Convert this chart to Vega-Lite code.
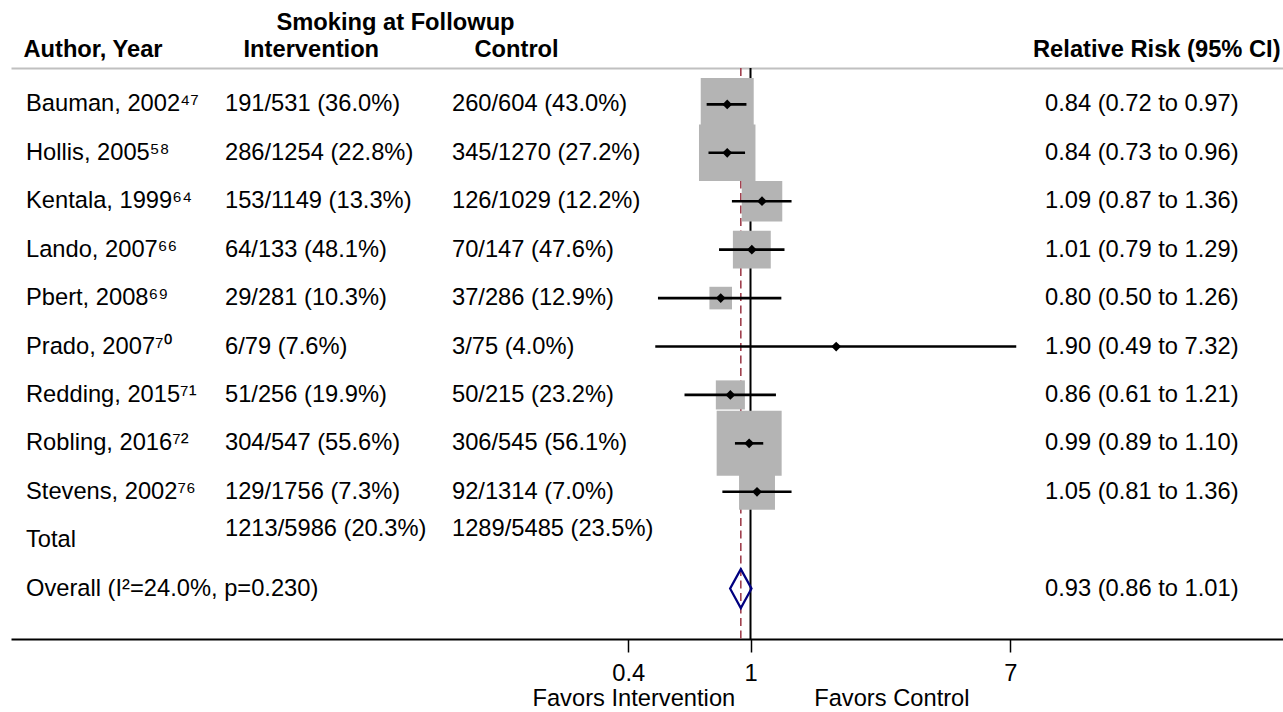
{
  "$schema": "https://vega.github.io/schema/vega-lite/v6.json",
  "width": 1272,
  "height": 571,
  "autosize": {"type": "none"},
  "padding": {"left": 11, "top": 68, "right": 0, "bottom": 73},
  "background": "white",
  "config": {"view": {"stroke": null}, "font": "Liberation Sans", "axis": {"grid": false}},
  "data": {
    "values": [
      {"study": "Bauman, 2002⁴⁷", "int": "191/531 (36.0%)", "ctl": "260/604 (43.0%)", "rr": 0.84, "lo": 0.72, "hi": 0.97, "w": 17.6, "rrtext": "0.84 (0.72 to 0.97)", "type": "study"},
      {"study": "Hollis, 2005⁵⁸", "int": "286/1254 (22.8%)", "ctl": "345/1270 (27.2%)", "rr": 0.84, "lo": 0.73, "hi": 0.96, "w": 20.0, "rrtext": "0.84 (0.73 to 0.96)", "type": "study"},
      {"study": "Kentala, 1999⁶⁴", "int": "153/1149 (13.3%)", "ctl": "126/1029 (12.2%)", "rr": 1.09, "lo": 0.87, "hi": 1.36, "w": 10.3, "rrtext": "1.09 (0.87 to 1.36)", "type": "study"},
      {"study": "Lando, 2007⁶⁶", "int": "64/133 (48.1%)", "ctl": "70/147 (47.6%)", "rr": 1.01, "lo": 0.79, "hi": 1.29, "w": 9.0, "rrtext": "1.01 (0.79 to 1.29)", "type": "study"},
      {"study": "Pbert, 2008⁶⁹", "int": "29/281 (10.3%)", "ctl": "37/286 (12.9%)", "rr": 0.80, "lo": 0.50, "hi": 1.26, "w": 3.2, "rrtext": "0.80 (0.50 to 1.26)", "type": "study"},
      {"study": "Prado, 2007⁷⁰", "int": "6/79 (7.6%)", "ctl": "3/75 (4.0%)", "rr": 1.90, "lo": 0.49, "hi": 7.32, "w": 0.1, "rrtext": "1.90 (0.49 to 7.32)", "type": "study"},
      {"study": "Redding, 2015⁷¹", "int": "51/256 (19.9%)", "ctl": "50/215 (23.2%)", "rr": 0.86, "lo": 0.61, "hi": 1.21, "w": 5.3, "rrtext": "0.86 (0.61 to 1.21)", "type": "study"},
      {"study": "Robling, 2016⁷²", "int": "304/547 (55.6%)", "ctl": "306/545 (56.1%)", "rr": 0.99, "lo": 0.89, "hi": 1.10, "w": 26.5, "rrtext": "0.99 (0.89 to 1.10)", "type": "study"},
      {"study": "Stevens, 2002⁷⁶", "int": "129/1756 (7.3%)", "ctl": "92/1314 (7.0%)", "rr": 1.05, "lo": 0.81, "hi": 1.36, "w": 8.1, "rrtext": "1.05 (0.81 to 1.36)", "type": "study"},
      {"study": "Total", "int": "1213/5986 (20.3%)", "ctl": "1289/5485 (23.5%)", "type": "total"},
      {"study": "Overall (I²=24.0%, p=0.230)", "rr": 0.93, "lo": 0.86, "hi": 1.01, "rrtext": "0.93 (0.86 to 1.01)", "type": "overall"}
    ]
  },
  "layer": [
    {
      "data": {"values": [{}]},
      "mark": {"type": "rule", "color": "black", "strokeWidth": 2},
      "encoding": {
        "x": {
          "datum": 1,
          "type": "quantitative",
          "scale": {"type": "log", "domain": [0.0039291, 53.988], "nice": false, "zero": false},
          "axis": {
            "orient": "bottom",
            "values": [0.4, 1, 7],
            "format": "~g",
            "domain": true,
            "domainColor": "black",
            "domainWidth": 2,
            "ticks": true,
            "tickColor": "black",
            "tickWidth": 1.5,
            "tickSize": 13,
            "labelFont": "Liberation Sans",
            "labelFontSize": 23.7,
            "labelColor": "black",
            "labelPadding": 21,
            "labelBaseline": "middle",
            "labelFlush": false,
            "labelOverlap": false,
            "title": "Favors Intervention\u00a0\u00a0\u00a0\u00a0\u00a0\u00a0\u00a0\u00a0\u00a0\u00a0\u00a0\u00a0Favors Control",
            "titleFont": "Liberation Sans",
            "titleFontSize": 23.7,
            "titleFontWeight": "normal",
            "titleColor": "black",
            "titleX": 739.5,
            "titleY": 59,
            "titleBaseline": "middle",
            "titleAlign": "center",
            "titleLimit": 0,
            "grid": false
          }
        }
      }
    },
    {
      "transform": [{"filter": "datum.type === 'overall'"}],
      "mark": {"type": "rule", "color": "#a0404e", "strokeWidth": 1.6, "strokeDash": [8, 4.5]},
      "encoding": {"x": {"field": "rr", "type": "quantitative", "axis": null}}
    },
    {
      "transform": [{"filter": "datum.type === 'study'"}],
      "mark": {"type": "point", "shape": "square", "filled": true, "color": "#b4b4b4", "opacity": 1, "strokeWidth": 0},
      "encoding": {
        "x": {"field": "rr", "type": "quantitative", "axis": null},
        "y": {
          "field": "study",
          "type": "nominal",
          "scale": {
            "type": "point",
            "domain": ["Bauman, 2002⁴⁷", "Hollis, 2005⁵⁸", "Kentala, 1999⁶⁴", "Lando, 2007⁶⁶", "Pbert, 2008⁶⁹", "Prado, 2007⁷⁰", "Redding, 2015⁷¹", "Robling, 2016⁷²", "Stevens, 2002⁷⁶", "Total", "Overall (I²=24.0%, p=0.230)"],
            "padding": 0.8963,
            "align": 0.4194,
            "round": false
          },
          "axis": null
        },
        "size": {"field": "w", "type": "quantitative", "scale": {"type": "linear", "domain": [0, 26.5], "range": [0, 4225], "zero": true}, "legend": null}
      }
    },
    {
      "transform": [{"filter": "datum.type === 'study'"}],
      "mark": {"type": "rule", "color": "black", "strokeWidth": 2.6},
      "encoding": {
        "x": {"field": "lo", "type": "quantitative", "axis": null},
        "x2": {"field": "hi"},
        "y": {"field": "study", "type": "nominal", "axis": null}
      }
    },
    {
      "transform": [{"filter": "datum.type === 'study'"}],
      "mark": {"type": "point", "shape": "diamond", "filled": true, "color": "black", "opacity": 1, "size": 95},
      "encoding": {
        "x": {"field": "rr", "type": "quantitative", "axis": null},
        "y": {"field": "study", "type": "nominal", "axis": null}
      }
    },
    {
      "transform": [{"filter": "datum.type === 'overall'"}],
      "mark": {"type": "point", "shape": "M-0.55,0L0,-1L0.55,0L0,1Z", "filled": false, "color": "#000080", "strokeWidth": 2.2, "opacity": 1, "size": 1521},
      "encoding": {
        "x": {"field": "rr", "type": "quantitative", "axis": null},
        "y": {"field": "study", "type": "nominal", "axis": null}
      }
    },
    {
      "mark": {"type": "text", "align": "left", "baseline": "middle", "fontSize": 23.7, "font": "Liberation Sans", "color": "black"},
      "encoding": {
        "x": {
          "datum": 0.0043964,
          "type": "quantitative",
          "axis": {
            "orient": "top",
            "values": [0.004296, 0.02234, 0.126, 52.8],
            "labelExpr": "datum.value < 0.01 ? 'Author, Year' : datum.value < 0.05 ? 'Intervention' : datum.value < 1 ? 'Control' : 'Relative Risk (95% CI)'",
            "labelFont": "Liberation Sans",
            "labelFontWeight": "bold",
            "labelFontSize": 23.7,
            "labelColor": "black",
            "labelAlign": {"condition": {"test": "datum.value > 10", "value": "right"}, "value": "left"},
            "labelBaseline": "middle",
            "labelPadding": 19,
            "labelLimit": 0,
            "labelFlush": false,
            "labelOverlap": false,
            "labelBound": false,
            "ticks": false,
            "tickSize": 0,
            "domain": true,
            "domainColor": "#c0c0c0",
            "domainWidth": 2,
            "title": "Smoking at Followup",
            "titleFont": "Liberation Sans",
            "titleFontWeight": "bold",
            "titleFontSize": 23.7,
            "titleColor": "black",
            "titleX": 384,
            "titleY": -46,
            "titleBaseline": "middle",
            "titleAlign": "center",
            "titleLimit": 0,
            "grid": false
          }
        },
        "y": {"field": "study", "type": "nominal", "axis": null},
        "text": {"field": "study"}
      }
    },
    {
      "transform": [{"filter": "datum.type === 'study'"}],
      "mark": {"type": "text", "align": "left", "baseline": "middle", "fontSize": 23.7, "font": "Liberation Sans", "color": "black"},
      "encoding": {
        "x": {"datum": 0.01952, "type": "quantitative", "axis": null},
        "y": {"field": "study", "type": "nominal", "axis": null},
        "text": {"field": "int"}
      }
    },
    {
      "transform": [{"filter": "datum.type === 'total'"}],
      "mark": {"type": "text", "align": "left", "baseline": "middle", "fontSize": 23.7, "font": "Liberation Sans", "color": "black", "dy": -11},
      "encoding": {
        "x": {"datum": 0.01952, "type": "quantitative", "axis": null},
        "y": {"field": "study", "type": "nominal", "axis": null},
        "text": {"field": "int"}
      }
    },
    {
      "transform": [{"filter": "datum.type === 'study'"}],
      "mark": {"type": "text", "align": "left", "baseline": "middle", "fontSize": 23.7, "font": "Liberation Sans", "color": "black"},
      "encoding": {
        "x": {"datum": 0.10689, "type": "quantitative", "axis": null},
        "y": {"field": "study", "type": "nominal", "axis": null},
        "text": {"field": "ctl"}
      }
    },
    {
      "transform": [{"filter": "datum.type === 'total'"}],
      "mark": {"type": "text", "align": "left", "baseline": "middle", "fontSize": 23.7, "font": "Liberation Sans", "color": "black", "dy": -11},
      "encoding": {
        "x": {"datum": 0.10689, "type": "quantitative", "axis": null},
        "y": {"field": "study", "type": "nominal", "axis": null},
        "text": {"field": "ctl"}
      }
    },
    {
      "transform": [{"filter": "isValid(datum.rrtext)"}],
      "mark": {"type": "text", "align": "left", "baseline": "middle", "fontSize": 23.7, "font": "Liberation Sans", "color": "black"},
      "encoding": {
        "x": {"datum": 9.0792, "type": "quantitative", "axis": null},
        "y": {"field": "study", "type": "nominal", "axis": null},
        "text": {"field": "rrtext"}
      }
    }
  ],
  "resolve": {"axis": {"x": "independent"}}
}
